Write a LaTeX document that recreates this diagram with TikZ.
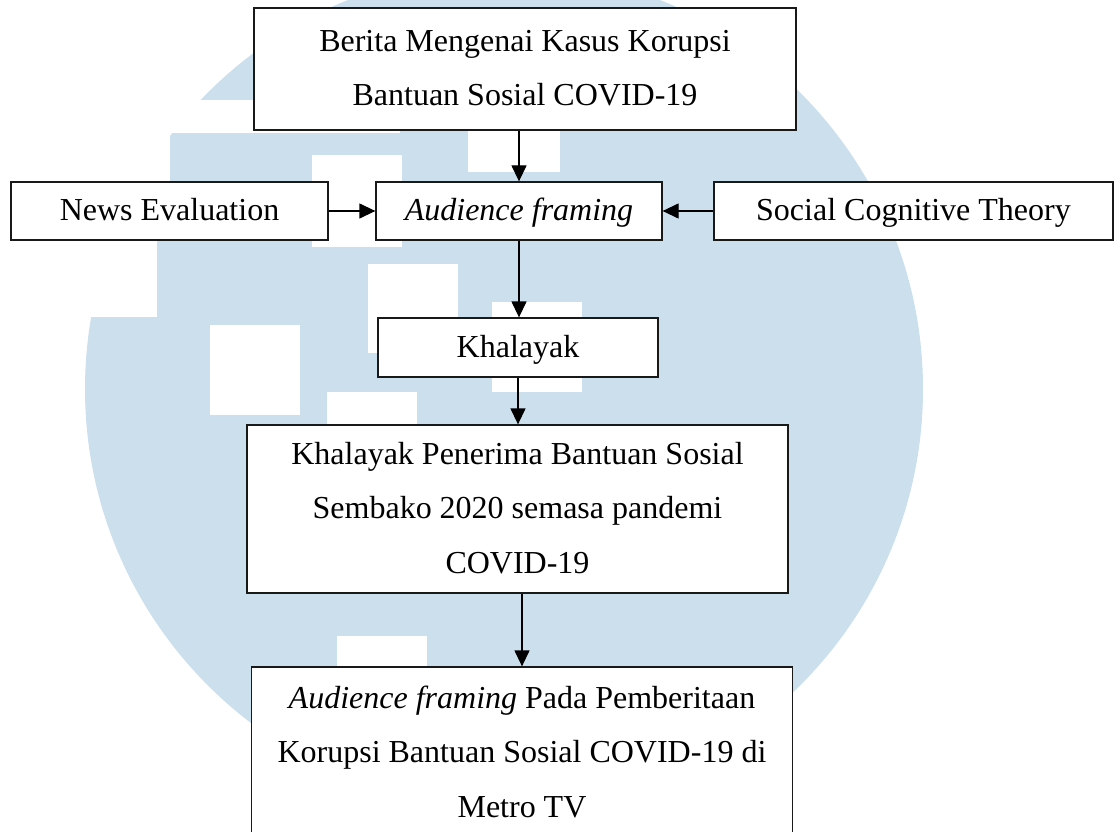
\documentclass[tikz,border=0pt]{standalone}
\usepackage{fontspec}
\setmainfont{Liberation Serif}
\usetikzlibrary{arrows.meta}
\definecolor{wmblue}{RGB}{204,223,237}
\newcommand{\ls}{\rule[-17.5pt]{0pt}{54.5pt}}
\tikzset{
  box/.style={draw=black!90, line width=1.3pt, fill=white, inner sep=0pt, align=center,
    font=\fontsize{32}{54.5}\selectfont},
  arr/.style={line width=1.3pt, -{Triangle[length=16pt,width=15pt]}},
  hole/.style={fill=white}
}
\begin{document}
\begin{tikzpicture}[x=1pt,y=-1pt]
\useasboundingbox (0,0) rectangle (1114,832);
\clip (0,0) rectangle (1114,832);
% watermark
\fill[wmblue] (504,389) circle[radius=419];
\fill[hole] (0,100) rectangle (400,133);
\fill[hole] (0,133) rectangle (170,182);
\fill[hole] (0,182) rectangle (157,317);
\fill[hole] (312,155) rectangle (402,247);
\fill[hole] (468,120) rectangle (560,172);
\fill[hole] (368,264) rectangle (458,353);
\fill[hole] (492,302) rectangle (582,392);
\fill[hole] (210,325) rectangle (300,415);
\fill[hole] (327,392) rectangle (417,482);
\fill[hole] (337,636) rectangle (427,726);
% nodes
\node[box, minimum width=542pt, minimum height=122pt] (top) at (525,69)
  {\ls Berita Mengenai Kasus Korupsi\\\ls Bantuan Sosial COVID-19};
\node[box, minimum width=317pt, minimum height=58pt] (news) at (169.5,211)
  {\ls News Evaluation};
\node[box, minimum width=286pt, minimum height=58pt] (aud) at (519,211)
  {\ls\textit{Audience framing}};
\node[box, minimum width=399pt, minimum height=58pt] (soc) at (913.5,211)
  {\ls Social Cognitive Theory};
\node[box, minimum width=280pt, minimum height=59pt] (khal) at (518,347.5)
  {\ls Khalayak};
\node[box, minimum width=541pt, minimum height=168pt] (pen) at (517.5,509)
  {\ls Khalayak Penerima Bantuan Sosial\\\ls Sembako 2020 semasa pandemi\\\ls COVID-19};
\node[box, minimum width=541pt, minimum height=172pt] (bot) at (522,753)
  {\ls\textit{Audience framing} Pada Pemberitaan\\\ls Korupsi Bantuan Sosial COVID-19 di\\\ls Metro TV};
% connectors
\draw[arr] (top.south -| aud.north) -- (aud.north);
\draw[arr] (news.east) -- (aud.west);
\draw[arr] (soc.west) -- (aud.east);
\draw[arr] (aud.south) -- (aud.south |- khal.north);
\draw[arr] (khal.south) -- (khal.south |- pen.north);
\draw[arr] (pen.south -| bot.north) -- (bot.north);
\end{tikzpicture}
\end{document}
